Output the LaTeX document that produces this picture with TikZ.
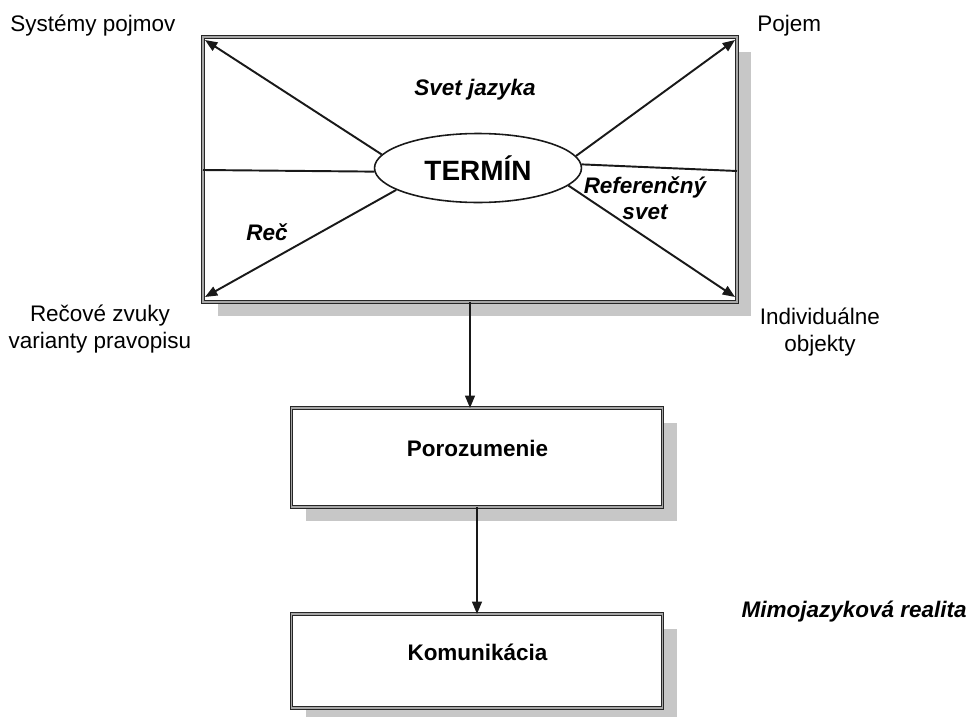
\documentclass[tikz,border=0pt]{standalone}
\usepackage{fontspec}
\setmainfont{Liberation Sans}
\usetikzlibrary{shapes.geometric,arrows.meta,shadows,calc}

\begin{document}
\begin{tikzpicture}[x=0.02cm,y=-0.02cm,
  txt/.style={font=\fontsize{12.8}{14.9}\selectfont, inner sep=0pt, align=center},
  btxt/.style={font=\bfseries\fontsize{12.8}{14.9}\selectfont, inner sep=0pt},
  bitxt/.style={font=\bfseries\itshape\fontsize{12.8}{14.9}\selectfont, inner sep=0pt, align=center},
  framebox/.style={rectangle, inner sep=0pt, outer sep=0pt, fill=white,
    draw=black!85, line width=0.55pt, double=black!35, double distance=0.9pt,
    drop shadow={shadow xshift=0.29cm, shadow yshift=-0.29cm, fill=black!22, opacity=1}},
  conn/.style={draw=black!90, line width=1.1pt},
  arr/.style={conn, -{Triangle[length=7pt,width=5.5pt]}}
]
\useasboundingbox (0,0) rectangle (971,717);

% main frame and the central term
\node[framebox, minimum width=10.68cm, minimum height=5.3cm] (frame) at (470,169.5) {};
\node[ellipse, draw=black!90, line width=0.9pt, fill=white, inner sep=0pt,
      minimum width=4.14cm, minimum height=1.38cm] (term) at (478,168) {};
\node[font=\bfseries\fontsize{15.9}{18}\selectfont, inner sep=0pt] (termtxt) at (478,168) {TERMÍN};

% corner points of the frame
\coordinate (cnw) at (205,40);
\coordinate (cne) at (735,40);
\coordinate (csw) at (205,297);
\coordinate (cse) at (735,297);
\coordinate (wl) at (203,170);
\coordinate (er) at (737,171);

\draw[arr] (term.172) -- (cnw);
\draw[arr] (term.7) -- (cne);
\draw[arr] (term.195) -- (csw);
\draw[arr] (term.349) -- (cse);
\draw[conn] (term.182) -- (wl);
\draw[conn] (term.2) -- (er);

% labels inside the frame
\node[bitxt] (svet) at (475,90) {Svet jazyka};
\node[bitxt] (rec) at (267,232) {Reč};
\node[bitxt] (ref) at (645,198) {Referenčný\\svet};

% labels around the frame
\node[txt, anchor=base west] (sys) at (10,31) {Systémy pojmov};
\node[txt, anchor=base west] (poj) at (757,31) {Pojem};
\node[txt, anchor=north] (zvuky) at (100,305) {Rečové zvuky\\varianty pravopisu};
\node[txt, anchor=north] (indiv) at (820,308) {Individuálne\\objekty};

% lower boxes
\node[framebox, minimum width=7.42cm, minimum height=1.98cm] (por) at (477,457.5) {};
\node[btxt] (portxt) at (477.5,448) {Porozumenie};
\node[framebox, minimum width=7.42cm, minimum height=1.88cm] (kom) at (477,661) {};
\node[btxt] (komtxt) at (477.5,652) {Komunikácia};
\node[bitxt, anchor=base east] (mimo) at (967,617) {Mimojazyková realita};

\draw[arr] (frame.south) -- (frame.south |- por.north);
\draw[arr] (por.south) -- (kom.north);
\end{tikzpicture}
\end{document}
